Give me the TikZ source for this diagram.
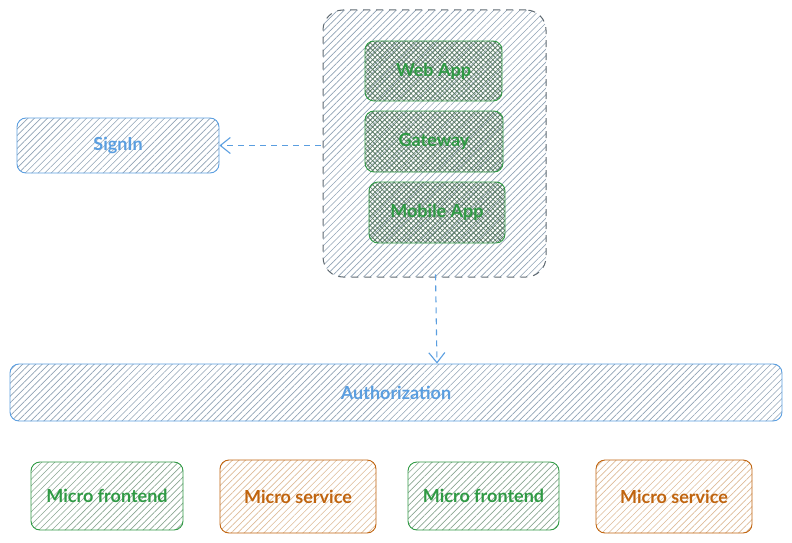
\documentclass[tikz,border=0pt]{standalone}
\usepackage{fontspec}
\setmainfont{Lato}
\usetikzlibrary{patterns.meta,arrows.meta}
\definecolor{cblue}{HTML}{5A9EE0}
\definecolor{cgreen}{HTML}{2F9A44}
\definecolor{corange}{HTML}{C0640E}
\definecolor{cgray}{HTML}{5F6A72}
\definecolor{hgray}{HTML}{8FA2B4}
\definecolor{hgreen}{HTML}{8AA692}
\definecolor{horange}{HTML}{DDBB98}
\definecolor{xgreen}{HTML}{5C7C66}
\tikzset{
  x=1pt, y=-1pt,
  hatch/.style={pattern={Lines[angle=45,distance=4.6pt,line width=0.65pt]}, pattern color=#1},
  lbl/.style={font=\fontsize{18}{21}\selectfont\bfseries},
  boxb/.style={draw=cblue, line width=0.9pt, rounded corners=9pt, hatch=hgray,
    text=cblue, lbl},
  boxg/.style={draw=cgreen, line width=0.9pt, rounded corners=9pt, hatch=hgreen,
    text=cgreen, lbl},
  boxo/.style={draw=corange, line width=0.9pt, rounded corners=9pt, hatch=horange,
    text=corange, lbl},
  inner/.style={draw=cgreen, line width=0.9pt, rounded corners=9pt,
    pattern={Hatch[angle=45,distance=3.4pt,line width=0.75pt]}, pattern color=xgreen,
    text=cgreen, lbl},
  cont/.style={draw=cgray, line width=1pt, dash pattern=on 7pt off 6pt, rounded corners=20pt,
    hatch=hgray},
  conn/.style={draw=cblue, line width=1.1pt, dash pattern=on 6pt off 5pt,
    -{Straight Barb[length=10pt,width=16pt,line width=1.1pt]}},
}
\begin{document}
\begin{tikzpicture}
\useasboundingbox (0,0) rectangle (792,543);
% container
\node[cont, inner sep=0pt, minimum width=223pt, minimum height=267pt] (cbox) at (434.5,143.5) {};
% inner boxes
\node[inner, minimum width=137pt, minimum height=60pt] (web) at (433.5,71) {Web App};
\node[inner, minimum width=138pt, minimum height=61pt] (gw) at (434,141.5) {Gateway};
\node[inner, minimum width=136pt, minimum height=61pt] (mob) at (437,212.5) {Mobile App};
% signin
\node[boxb, minimum width=202pt, minimum height=55pt] (signin) at (118,145.5) {SignIn};
% authorization
\node[boxb, minimum width=772pt, minimum height=57pt] (auth) at (396,392.5) {Authorization};
% bottom
\node[boxg, minimum width=152pt, minimum height=68pt] (mf1) at (107,496) {Micro frontend};
\node[boxo, minimum width=156pt, minimum height=73pt] (ms1) at (298,496.5) {Micro service};
\node[boxg, minimum width=151pt, minimum height=68pt] (mf2) at (483.5,496) {Micro frontend};
\node[boxo, minimum width=156pt, minimum height=73pt] (ms2) at (674,496.5) {Micro service};
% connectors
\draw[conn] ([xshift=-2pt]cbox.west |- signin.east) -- (signin.east);
\draw[conn] ([xshift=1pt,yshift=3pt]cbox.south) -- ([xshift=2.5pt]cbox.south |- auth.north);
\end{tikzpicture}
\end{document}
